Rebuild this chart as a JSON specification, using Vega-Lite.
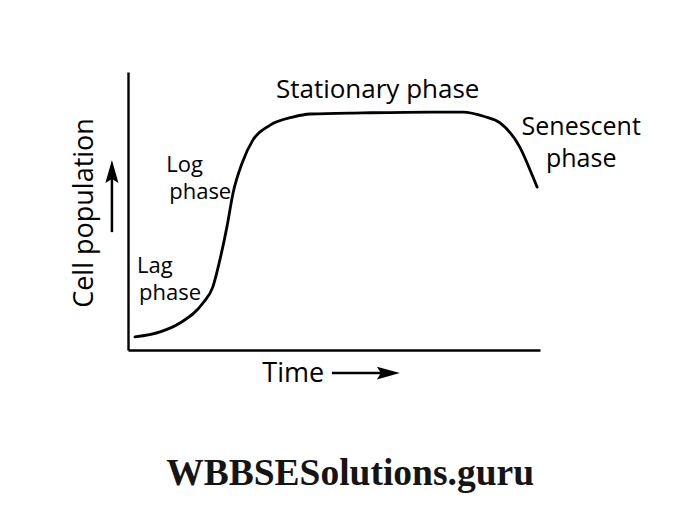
{
  "$schema": "https://vega.github.io/schema/vega-lite/v6.json",
  "width": 412,
  "height": 278,
  "autosize": {"type": "none"},
  "padding": {"left": 128, "top": 72, "right": 148, "bottom": 176},
  "background": "white",
  "config": {"view": {"stroke": null}},
  "datasets": {
    "curve": [
      {"time": 1.7, "pop": 4.7},
      {"time": 7.8, "pop": 6.5},
      {"time": 12.6, "pop": 9.7},
      {"time": 18.2, "pop": 16.9},
      {"time": 20.6, "pop": 22.7},
      {"time": 22.3, "pop": 32.4},
      {"time": 24.0, "pop": 44.2},
      {"time": 25.5, "pop": 56.5},
      {"time": 27.7, "pop": 67.3},
      {"time": 30.3, "pop": 75.5},
      {"time": 34.5, "pop": 80.9},
      {"time": 40.0, "pop": 83.8},
      {"time": 44.2, "pop": 84.9},
      {"time": 57.0, "pop": 85.3},
      {"time": 73.3, "pop": 85.6},
      {"time": 81.3, "pop": 85.6},
      {"time": 86.5, "pop": 84.0},
      {"time": 90.3, "pop": 81.7},
      {"time": 95.1, "pop": 73.0},
      {"time": 98.3, "pop": 62.2},
      {"time": 99.3, "pop": 58.6}
    ],
    "stationary": [
      {"label": "Stationary phase", "time": 60.6, "pop": 90.6}
    ],
    "senescent": [
      {"label": "Senescent", "time": 110.0, "pop": 77.3},
      {"label": "phase", "time": 110.0, "pop": 65.9}
    ],
    "smallLabels": [
      {"label": "Log", "time": 9.3, "pop": 64.0},
      {"label": "phase", "time": 10.0, "pop": 54.3},
      {"label": "Lag", "time": 2.2, "pop": 27.7},
      {"label": "phase", "time": 2.7, "pop": 18.0}
    ],
    "xTitle": [{"label": "Time", "time": 32.6, "pop": -11.5}],
    "yTitle": [{"label": "Cell population", "time": -8.5, "pop": 49.3}],
    "watermark": [{"label": "WBBSESolutions.guru", "time": 53.9, "pop": -48.6}],
    "arrowShafts": [
      {"x1": -3.9, "x2": -3.9, "y1": 42.4, "y2": 63.0},
      {"x1": 49.5, "x2": 61.5, "y1": -8.3, "y2": -8.3}
    ],
    "upHead": [{"time": -3.9, "pop": 64.2}],
    "rightHead": [{"time": 63.2, "pop": -8.3}]
  },
  "layer": [
    {
      "data": {"name": "curve"},
      "mark": {"type": "line", "interpolate": "monotone", "color": "black", "strokeWidth": 2.8, "strokeCap": "round"},
      "encoding": {
        "x": {"field": "time", "type": "quantitative", "scale": {"domain": [0, 100], "nice": false, "zero": false},
          "axis": {"title": null, "labels": false, "ticks": false, "grid": false, "domainColor": "black", "domainWidth": 2.4}},
        "y": {"field": "pop", "type": "quantitative", "scale": {"domain": [0, 100], "nice": false, "zero": false},
          "axis": {"title": null, "labels": false, "ticks": false, "grid": false, "domainColor": "black", "domainWidth": 2.4}}
      }
    },
    {
      "data": {"name": "stationary"},
      "mark": {"type": "text", "align": "center", "baseline": "alphabetic", "font": "Open Sans", "fontSize": 26, "color": "black"},
      "encoding": {
        "x": {"field": "time", "type": "quantitative"},
        "y": {"field": "pop", "type": "quantitative"},
        "text": {"field": "label"}
      }
    },
    {
      "data": {"name": "senescent"},
      "mark": {"type": "text", "align": "center", "baseline": "alphabetic", "font": "Open Sans", "fontSize": 25, "color": "black"},
      "encoding": {
        "x": {"field": "time", "type": "quantitative"},
        "y": {"field": "pop", "type": "quantitative"},
        "text": {"field": "label"}
      }
    },
    {
      "data": {"name": "smallLabels"},
      "mark": {"type": "text", "align": "left", "baseline": "alphabetic", "font": "Open Sans", "fontSize": 22, "color": "black"},
      "encoding": {
        "x": {"field": "time", "type": "quantitative"},
        "y": {"field": "pop", "type": "quantitative"},
        "text": {"field": "label"}
      }
    },
    {
      "data": {"name": "xTitle"},
      "mark": {"type": "text", "align": "left", "baseline": "alphabetic", "font": "Open Sans", "fontSize": 27, "color": "black"},
      "encoding": {
        "x": {"field": "time", "type": "quantitative"},
        "y": {"field": "pop", "type": "quantitative"},
        "text": {"field": "label"}
      }
    },
    {
      "data": {"name": "yTitle"},
      "mark": {"type": "text", "align": "center", "baseline": "alphabetic", "angle": 270, "font": "Open Sans", "fontSize": 27, "color": "black"},
      "encoding": {
        "x": {"field": "time", "type": "quantitative"},
        "y": {"field": "pop", "type": "quantitative"},
        "text": {"field": "label"}
      }
    },
    {
      "data": {"name": "watermark"},
      "mark": {"type": "text", "align": "center", "baseline": "alphabetic", "font": "Liberation Serif", "fontSize": 37.5, "fontWeight": "bold", "color": "#151515"},
      "encoding": {
        "x": {"field": "time", "type": "quantitative"},
        "y": {"field": "pop", "type": "quantitative"},
        "text": {"field": "label"}
      }
    },
    {
      "data": {"name": "arrowShafts"},
      "mark": {"type": "rule", "color": "black", "strokeWidth": 2.5},
      "encoding": {
        "x": {"field": "x1", "type": "quantitative"},
        "x2": {"field": "x2"},
        "y": {"field": "y1", "type": "quantitative"},
        "y2": {"field": "y2"}
      }
    },
    {
      "data": {"name": "upHead"},
      "mark": {"type": "point", "shape": "M0,-1L0.57,1L0,0.65L-0.57,1Z", "filled": true, "color": "black", "size": 529, "opacity": 1, "strokeWidth": 0},
      "encoding": {
        "x": {"field": "time", "type": "quantitative"},
        "y": {"field": "pop", "type": "quantitative"}
      }
    },
    {
      "data": {"name": "rightHead"},
      "mark": {"type": "point", "shape": "M1,0L-1,0.55L-0.65,0L-1,-0.55Z", "filled": true, "color": "black", "size": 529, "opacity": 1, "strokeWidth": 0},
      "encoding": {
        "x": {"field": "time", "type": "quantitative"},
        "y": {"field": "pop", "type": "quantitative"}
      }
    }
  ]
}
